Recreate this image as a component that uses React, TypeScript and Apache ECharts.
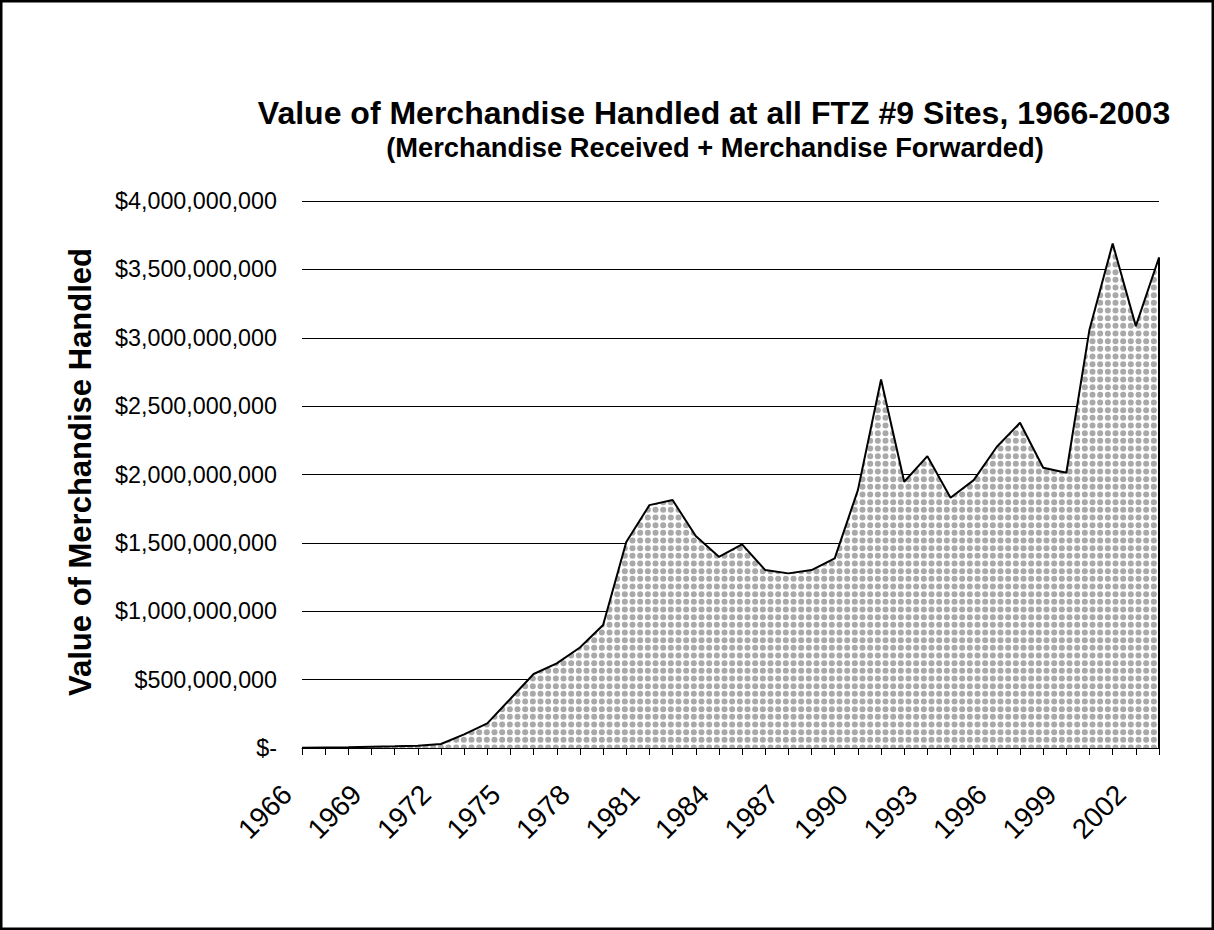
import React, { useEffect, useRef } from "react";
import * as echarts from "echarts";

const years: string[] = [
  "1966", "1967", "1968", "1969", "1970", "1971", "1972", "1973", "1974", "1975",
  "1976", "1977", "1978", "1979", "1980", "1981", "1982", "1983", "1984", "1985",
  "1986", "1987", "1988", "1989", "1990", "1991", "1992", "1993", "1994", "1995",
  "1996", "1997", "1998", "1999", "2000", "2001", "2002", "2003",
];

const values: number[] = [
  2e6, 4e6, 6e6, 9e6, 12e6, 17e6, 29e6, 100e6, 180e6, 360e6,
  541e6, 619e6, 735e6, 900e6, 1506e6, 1776e6, 1813e6, 1550e6, 1398e6, 1489e6,
  1301e6, 1277e6, 1301e6, 1387e6, 1886e6, 2695e6, 1947e6, 2134e6, 1830e6, 1959e6,
  2203e6, 2378e6, 2049e6, 2013e6, 3061e6, 3689e6, 3085e6, 3587e6,
];

const yMin = 0;
const yMax = 4000000000;
const yStep = 500000000;

const titleText = "Value of Merchandise Handled at all FTZ #9 Sites, 1966-2003";
const subtitleText = "(Merchandise Received + Merchandise Forwarded)";
const yAxisTitle = "Value of Merchandise Handled";

const FONT = "'Liberation Sans', Arial, Helvetica, sans-serif";

function makePattern(): HTMLCanvasElement {
  const c = document.createElement("canvas");
  c.width = 23;
  c.height = 23;
  const ctx = c.getContext("2d")!;
  ctx.fillStyle = "#ffffff";
  ctx.fillRect(0, 0, 23, 23);
  ctx.fillStyle = "#a9a9a9";
  const step = 23 / 3;
  for (let i = 0; i < 3; i++) {
    for (let j = 0; j < 3; j++) {
      const cx = step / 2 + i * step;
      const cy = step / 2 + j * step;
      ctx.beginPath();
      ctx.arc(cx, cy, 3.0, 0, Math.PI * 2);
      ctx.fill();
    }
  }
  return c;
}

function fmtDollar(v: number): string {
  if (v === 0) return "$-";
  return "$" + v.toLocaleString("en-US");
}

export default function App() {
  const ref = useRef<HTMLDivElement>(null);

  useEffect(() => {
    if (!ref.current) return;
    const chart = echarts.init(ref.current, undefined, { renderer: "svg" });
    const pattern = makePattern();
    const last = years.length - 1;

    chart.setOption({
      animation: false,
      backgroundColor: "#ffffff",
      grid: { left: 302, right: 55, top: 201, bottom: 182, containLabel: false },
      xAxis: {
        type: "category",
        data: years,
        boundaryGap: false,
        axisLine: { show: true, lineStyle: { color: "#000", width: 1 } },
        axisTick: { show: true, interval: 0, length: 7, lineStyle: { color: "#000", width: 1 } },
        axisLabel: {
          interval: 2,
          rotate: 45,
          margin: 27,
          padding: [0, 21, 0, 0],
          fontSize: 28,
          fontFamily: FONT,
          color: "#000",
        },
        splitLine: { show: false },
      },
      yAxis: {
        type: "value",
        min: yMin,
        max: yMax,
        interval: yStep,
        axisLine: { show: false },
        axisTick: { show: false },
        axisLabel: {
          margin: 25,
          fontSize: 23.3,
          fontFamily: FONT,
          color: "#000",
          formatter: fmtDollar,
        },
        splitLine: { show: true, lineStyle: { color: "#000", width: 1 } },
      },
      series: [
        {
          type: "line",
          data: values,
          symbol: "none",
          lineStyle: { color: "#000", width: 2 },
          areaStyle: {
            color: { image: pattern, repeat: "repeat", imageWidth: 23, imageHeight: 23 },
            opacity: 1,
          },
          markLine: {
            silent: true,
            symbol: ["none", "none"],
            label: { show: false },
            lineStyle: { color: "#000", width: 2, type: "solid" },
            data: [[{ coord: [years[last], 0] }, { coord: [years[last], values[last]] }]],
          },
        },
      ],
      graphic: [
        {
          type: "rect",
          shape: { x: 1.25, y: 1.25, width: 1211.5, height: 927.5 },
          style: { fill: "none", stroke: "#000", lineWidth: 2.5 },
          silent: true,
        },
        {
          type: "text",
          x: 714,
          y: 113,
          style: {
            text: titleText,
            fontSize: 32,
            fontWeight: "bold",
            fontFamily: FONT,
            fill: "#000",
            align: "center",
            verticalAlign: "middle",
          },
        },
        {
          type: "text",
          x: 715,
          y: 147,
          style: {
            text: subtitleText,
            fontSize: 27.3,
            fontWeight: "bold",
            fontFamily: FONT,
            fill: "#000",
            align: "center",
            verticalAlign: "middle",
          },
        },
        {
          type: "text",
          x: 80,
          y: 472,
          rotation: Math.PI / 2,
          style: {
            text: yAxisTitle,
            fontSize: 31,
            fontWeight: "bold",
            fontFamily: FONT,
            fill: "#000",
            align: "center",
            verticalAlign: "middle",
          },
        },
      ],
    });

    return () => {
      chart.dispose();
    };
  }, []);

  return (
    <div
      ref={ref}
      style={{ position: "absolute", left: 0, top: 0, width: 1214, height: 930 }}
    />
  );
}
